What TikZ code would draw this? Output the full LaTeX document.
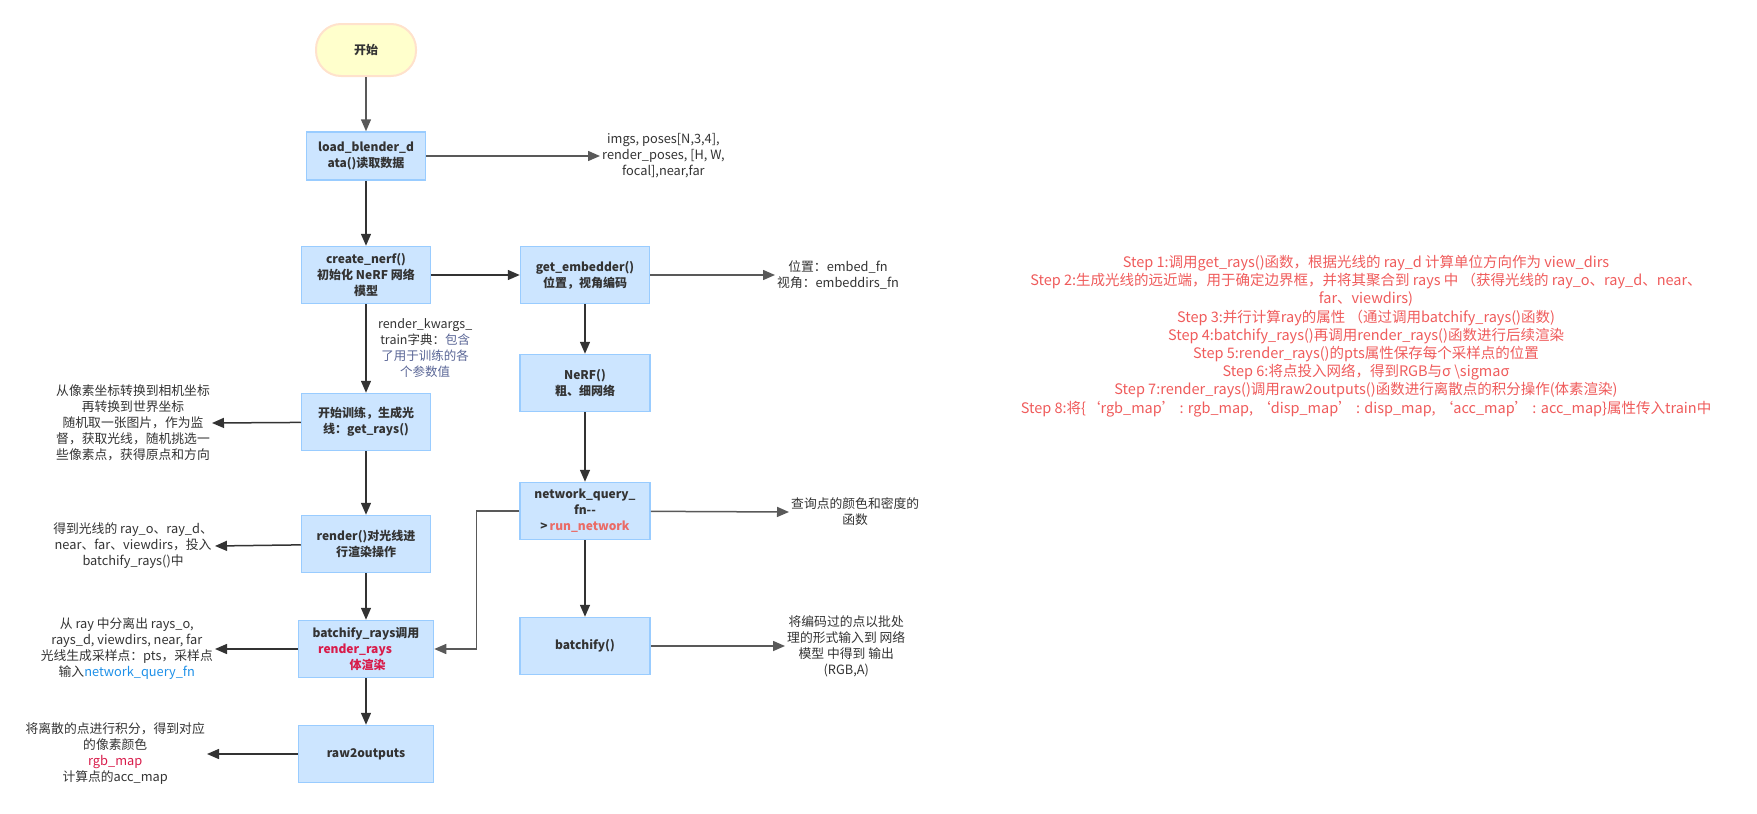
\documentclass[tikz,border=0pt]{standalone}
\usepackage{fontspec}
\setmainfont{Noto Sans CJK SC}
\usepackage{xcolor}
\usetikzlibrary{arrows.meta}
\definecolor{boxfill}{HTML}{CCE5FF}
\definecolor{boxline}{HTML}{99CCFF}
\definecolor{startfill}{HTML}{FFFFCC}
\definecolor{startline}{HTML}{FFE2CC}
\definecolor{txt}{HTML}{333333}
\definecolor{linedark}{HTML}{333333}
\definecolor{linegray}{HTML}{595959}
\definecolor{crim}{HTML}{D81B4A}
\definecolor{runred}{HTML}{EA6B66}
\definecolor{steptxt}{HTML}{EF5B5B}
\definecolor{fnblue}{HTML}{1E90E8}
\definecolor{kwblue}{HTML}{5A6696}

\tikzset{
  proc/.style={draw=boxline, fill=boxfill, line width=1.5pt, minimum width=129pt,
    minimum height=57pt, align=center, text=txt,
    font=\bfseries\fontsize{12}{16}\selectfont},
  note/.style={align=center, text=txt, inner sep=2pt, font=\fontsize{12.8}{16}\selectfont},
  flow/.style={-{Triangle[length=12pt,width=10pt]}, line width=1.5pt, draw=linedark},
  flowgray/.style={flow, draw=linegray},
}

\begin{document}
\begin{tikzpicture}[x=1pt, y=-1pt]
  \useasboundingbox (0,0) rectangle (1757,814);

  % main column
  \node[draw=startline, fill=startfill, line width=2pt, rounded corners=25pt,
    minimum width=100pt, minimum height=52pt, text=txt,
    font=\bfseries\fontsize{12}{16}\selectfont] (start) at (366,50) {开始};
  \node[proc, minimum width=119pt, minimum height=48pt] (load) at (366,156) {load\_blender\_d\\ata()读取数据};
  \node[proc] (create) at (366,275) {create\_nerf()\\初始化 NeRF 网络\\模型};
  \node[proc] (getrays) at (366,422) {开始训练，生成光\\线：get\_rays()};
  \node[proc] (render) at (366,544) {render()对光线进\\行渲染操作};
  \node[proc, minimum width=135pt] (brays) at (366,649) {batchify\_rays调用\\{\color{crim}render\_rays}\rule{22pt}{0pt}\\\rule{3pt}{0pt}{\color{crim}体渲染}};
  \node[proc, minimum width=135pt] (raw) at (366,754) {raw2outputs};

  % second column
  \node[proc] (embed) at (585,275) {get\_embedder()\\位置，视角编码};
  \node[proc, minimum width=130pt] (nerf) at (585,383) {NeRF()\\粗、细网络};
  \node[proc, minimum width=130pt] (nqf) at (585,511) {network\_query\_\\fn-{}-\\>\,{\color{runred}run\_network}};
  \node[proc, minimum width=130pt] (bfy) at (585,646) {batchify()};

  % notes
  \node[note, anchor=west] (loadout) at (600,156) {imgs, poses[N,3,4],\\render\_poses, [H, W,\\focal],near,far};
  \node[note, anchor=west] (embedout) at (775,275) {位置：embed\_fn\\视角：embeddirs\_fn};
  \node[note, anchor=west] (nqfout) at (789,512) {查询点的颜色和密度的\\函数};
  \node[note, anchor=west] (bfyout) at (785,646) {将编码过的点以批处\\理的形式输入到 网络\\模型 中得到 输出\\(RGB,A)};
  \node[note, anchor=east] (raysout) at (212,423) {从像素坐标转换到相机坐标\\再转换到世界坐标\\随机取一张图片，作为监\\督，获取光线，随机挑选一\\些像素点，获得原点和方向};
  \node[note, anchor=east] (renderout) at (215,546) {得到光线的 ray\_o、ray\_d、\\near、far、viewdirs，投入\\batchify\_rays()中};
  \node[note, anchor=east] (braysout) at (215,649) {从 ray 中分离出 rays\_o,\\rays\_d, viewdirs, near, far\\光线生成采样点：pts，采样点\\输入{\color{fnblue}network\_query\_fn}};
  \node[note, anchor=east] (rawout) at (207,754) {将离散的点进行积分，得到对应\\的像素颜色\\{\color{crim}rgb\_map}\\计算点的acc\_map};

  % steps
  \node[align=center, text=steptxt, font=\fontsize{14.5}{18.2}\selectfont] (steps) at (1366,336) {%
    Step 1:调用get\_rays()函数，根据光线的 ray\_d 计算单位方向作为 view\_dirs\\
    Step 2:生成光线的远近端，用于确定边界框，并将其聚合到 rays 中 （获得光线的 ray\_o、ray\_d、near、\\
    far、viewdirs)\\
    Step 3:并行计算ray的属性 （通过调用batchify\_rays()函数)\\
    Step 4:batchify\_rays()再调用render\_rays()函数进行后续渲染\\
    Step 5:render\_rays()的pts属性保存每个采样点的位置\\
    Step 6:将点投入网络，得到RGB与σ \textbackslash sigmaσ\\
    Step 7:render\_rays()调用raw2outputs()函数进行离散点的积分操作(体素渲染)\\
    Step 8:将\{‘rgb\_map’ : rgb\_map, ‘disp\_map’ : disp\_map, ‘acc\_map’ : acc\_map\}属性传入train中};

  % connectors
  \draw[flowgray] (start) -- (load);
  \draw[flow] (load) -- (create);
  \draw[flow] (create) -- node[right, xshift=8pt, text=txt, align=center,
    font=\fontsize{12.5}{16}\selectfont]
    {render\_kwargs\_\\train字典：{\color{kwblue}包含}\\{\color{kwblue}了用于训练的各}\\{\color{kwblue}个参数值}} (getrays);
  \draw[flow] (getrays) -- (render);
  \draw[flow] (render) -- (brays);
  \draw[flow] (brays) -- (raw);
  \draw[flow] (create) -- (embed);
  \draw[flow] (embed) -- (nerf);
  \draw[flow] (nerf) -- (nqf);
  \draw[flow] (nqf) -- (bfy);
  \draw[flowgray] (nqf.west) -- ++(-43,0) |- (brays.east);

  \draw[flowgray] (load) -- (loadout.west);
  \draw[flowgray] (embed) -- (embedout.west);
  \draw[flowgray] (nqf) -- (nqfout.west);
  \draw[flowgray] (bfy) -- (bfyout.west);
  \draw[flow] (getrays) -- (raysout.east);
  \draw[flow] (render) -- (renderout.east);
  \draw[flow] (brays) -- (braysout.east);
  \draw[flow] (raw) -- (rawout.east);
\end{tikzpicture}
\end{document}
